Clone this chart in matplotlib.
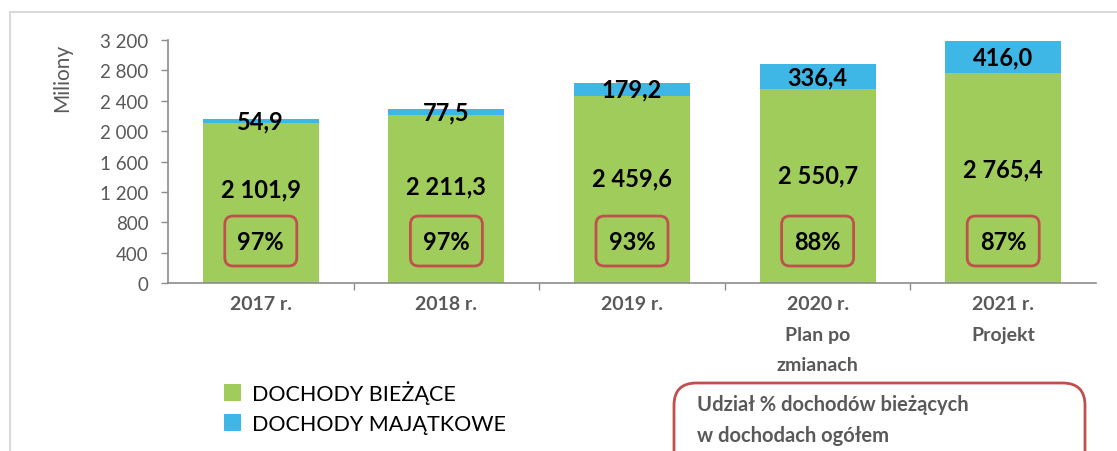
import matplotlib
matplotlib.use("Agg")
import matplotlib.pyplot as plt
from matplotlib.patches import FancyBboxPatch, Patch, Rectangle

plt.rcParams['font.family'] = ['Lato', 'DejaVu Sans']

categories = ["2017 r.", "2018 r.", "2019 r.", "2020 r.\nPlan po\nzmianach", "2021 r.\nProjekt"]
biezace = [2101.9, 2211.3, 2459.6, 2550.7, 2765.4]
majatkowe = [54.9, 77.5, 179.2, 336.4, 416.0]
udzial = ["97%", "97%", "93%", "88%", "87%"]
yticks = [0, 400, 800, 1200, 1600, 2000, 2400, 2800, 3200]
ytick_labels = ["0", "400", "800", "1 200", "1 600", "2 000", "2 400", "2 800", "3 200"]
legend_labels = ["DOCHODY BIEŻĄCE", "DOCHODY MAJĄTKOWE"]
note_text = "Udział % dochodów bieżących\nw dochodach ogółem"

GREEN = "#9FCC5A"
BLUE = "#3EB7E7"
RED = "#C0504D"
GRAY = "#595959"
AXIS = "#8C8C8C"

W, H = 1117, 452
fig = plt.figure(figsize=(W / 100, H / 100), dpi=100)

# outer frame
fig.patches.append(Rectangle((10 / W, -0.1), 1.2, 1 - 13 / H + 0.1, transform=fig.transFigure,
                             fill=False, edgecolor="#D9D9D9", linewidth=1.5))

ax = fig.add_axes([168 / W, 1 - 284 / H, 928 / W, 243 / H])
x = list(range(len(categories)))
bw = 0.625
ax.bar(x, biezace, width=bw, color=GREEN, label=legend_labels[0], zorder=2)
ax.bar(x, majatkowe, width=bw, bottom=biezace, color=BLUE, label=legend_labels[1], zorder=2)

ax.set_xlim(-0.5, len(categories) - 0.5)
ax.set_ylim(0, 3200)
ax.set_yticks(yticks)
ax.set_yticklabels(ytick_labels, fontsize=13.5, color=GRAY)
ax.set_xticks(x)
ax.set_xticklabels(categories, fontsize=14, fontweight="bold", color=GRAY, linespacing=1.95, va="top")
ax.tick_params(axis="x", length=0, pad=9)
ax.set_xticks([i + 0.5 for i in range(len(categories) - 1)], minor=True)
ax.tick_params(axis="x", which="minor", length=5, color=AXIS, width=1)
ax.tick_params(axis="y", length=5, color=AXIS, width=1, pad=9)
for s in ["top", "right"]:
    ax.spines[s].set_visible(False)
for s in ["left", "bottom"]:
    ax.spines[s].set_color(AXIS)
    ax.spines[s].set_linewidth(1.2)

aspect = (3200 / 243) * (928 / 5)
for i, (b, m, u) in enumerate(zip(biezace, majatkowe, udzial)):
    ax.text(i, 0.4 * b + 400, f"{b:,.1f}".replace(",", " ").replace(".", ","),
            ha="center", va="center", fontsize=17, fontweight="bold", color="black", zorder=4)
    ax.text(i, b + m / 2, f"{m:.1f}".replace(".", ","),
            ha="center", va="center", fontsize=17, fontweight="bold", color="black", zorder=4)
    ax.text(i, 553, u, ha="center", va="center", fontsize=17, fontweight="bold", color="black", zorder=4)
    box = FancyBboxPatch((i - 0.194, 224), 0.388, 658,
                         boxstyle="round,pad=0,rounding_size=0.045", mutation_aspect=aspect,
                         fill=False, edgecolor=RED, linewidth=2, zorder=3)
    ax.add_patch(box)

fig.text(62 / W, 1 - 78 / H, "Miliony", rotation=90, ha="center", va="center", fontsize=15, color=GRAY)

handles = [Patch(facecolor=GREEN, edgecolor="none"), Patch(facecolor=BLUE, edgecolor="none")]
fig.legend(handles, legend_labels, loc="center left", bbox_to_anchor=(213 / W, 1 - 408 / H),
           frameon=False, fontsize=15.5, handlelength=0.8, handleheight=0.8, handletextpad=0.5,
           labelspacing=0.45, borderpad=0)

note = FancyBboxPatch((674 / W, -0.05), (1085 - 674) / W, (452 - 384) / H + 0.05,
                      boxstyle="round,pad=0,rounding_size=0.02", transform=fig.transFigure,
                      mutation_aspect=W / H, fill=False, edgecolor=RED, linewidth=2)
fig.patches.append(note)
fig.text(697 / W, 1 - 420.5 / H, note_text, ha="left", va="center", fontsize=14.5, fontweight="bold",
         color=GRAY, linespacing=1.7)

fig.savefig("out.png", dpi=100)
